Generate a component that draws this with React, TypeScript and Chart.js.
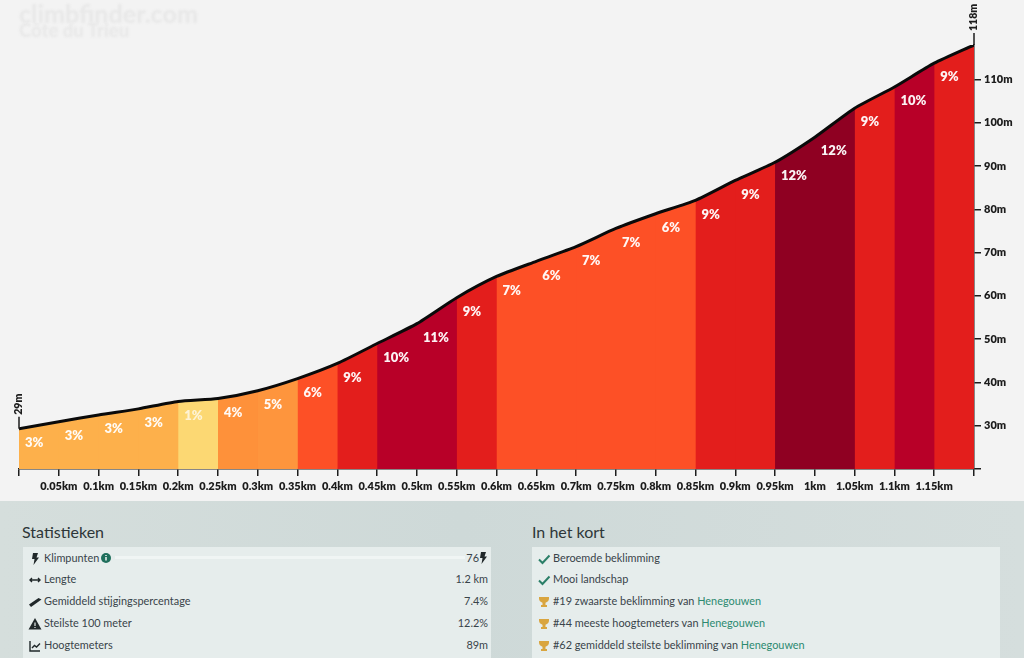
import React, { useEffect, useRef } from "react";
import { Chart, registerables } from "chart.js";

Chart.register(...registerables);

const distances = [0, 0.05, 0.1, 0.15, 0.2, 0.25, 0.3, 0.35, 0.4, 0.45, 0.5, 0.55, 0.6, 0.65, 0.7, 0.75, 0.8, 0.85, 0.9, 0.95, 1, 1.05, 1.1, 1.15, 1.2];
const elevations = [29.3, 30.9, 32.5, 33.9, 35.6, 36.3, 38.1, 40.9, 44.4, 49, 53.6, 59.6, 64.5, 68, 71.4, 75.6, 79, 82.1, 86.7, 90.9, 96.7, 103.4, 108.3, 113.8, 118];
const grades = [3, 3, 3, 3, 1, 4, 5, 6, 9, 10, 11, 9, 7, 6, 7, 7, 6, 9, 9, 12, 12, 9, 10, 9];
const startLabel = "29m";
const endLabel = "118m";
const statRows = [
  ["Klimpunten", "76"],
  ["Lengte", "1.2 km"],
  ["Gemiddeld stijgingspercentage", "7.4%"],
  ["Steilste 100 meter", "12.2%"],
  ["Hoogtemeters", "89m"],
];
const shortRows = [
  ["Beroemde beklimming", ""],
  ["Mooi landschap", ""],
  ["#19 zwaarste beklimming van ", "Henegouwen"],
  ["#44 meeste hoogtemeters van ", "Henegouwen"],
  ["#62 gemiddeld steilste beklimming van ", "Henegouwen"],
];

const gradeColor = (g: number): string => {
  if (g <= 1) return "#fcd873";
  if (g <= 3) return "#fdb04b";
  if (g <= 4) return "#fe913a";
  if (g <= 5) return "#fe953d";
  if (g <= 8) return "#fd5026";
  if (g <= 9) return "#e31e1c";
  if (g <= 11) return "#b80028";
  return "#8f0022";
};

const AXIS = "#1c1c1c";
const FONT = "Lato, sans-serif";
const TENSION = 0.2;

const overlayPlugin = {
  id: "overlay",
  afterDatasetsDraw(chart: any) {
    const { ctx, scales } = chart;
    const x = scales.x;
    const y = scales.y;
    ctx.save();
    ctx.font = `800 13px ${FONT}`;
    ctx.textAlign = "left";
    ctx.textBaseline = "middle";
    grades.forEach((g, i) => {
      ctx.fillStyle = g <= 1 ? "rgba(255,255,255,0.7)" : "rgba(255,255,255,0.95)";
      ctx.fillText(`${g}%`, x.getPixelForValue(distances[i]) + 6, y.getPixelForValue(elevations[i]) + 14);
    });
    const marks = [
      [distances[0], elevations[0], startLabel],
      [distances[distances.length - 1], elevations[elevations.length - 1], endLabel],
    ];
    ctx.strokeStyle = AXIS;
    ctx.fillStyle = AXIS;
    ctx.lineWidth = 1.5;
    ctx.font = `800 10.5px ${FONT}`;
    marks.forEach(([dv, ev, label]: any) => {
      const px = x.getPixelForValue(dv);
      const py = y.getPixelForValue(ev);
      ctx.beginPath();
      ctx.moveTo(px, py);
      ctx.lineTo(px, py - 12);
      ctx.stroke();
      ctx.save();
      ctx.translate(px, py - 14);
      ctx.rotate(-Math.PI / 2);
      ctx.textAlign = "left";
      ctx.textBaseline = "middle";
      ctx.fillText(label, 0, 0);
      ctx.restore();
    });
    ctx.restore();
  },
};

const ProfileChart = () => {
  const ref = useRef<HTMLCanvasElement>(null);
  useEffect(() => {
    const points = distances.map((d, i) => ({ x: d, y: elevations[i] }));
    // Each grade section is a filled layer reaching to the end of the climb, painted
    // over the previous one, so no background shows through at the section joins.
    const layers = grades.map((g, i) => ({
      data: points.slice(i),
      borderWidth: 0,
      borderColor: "transparent",
      pointRadius: 0,
      tension: TENSION,
      fill: "origin",
      backgroundColor: gradeColor(g),
      order: 100 - i,
    }));
    const chart = new Chart(ref.current as HTMLCanvasElement, {
      type: "line",
      data: {
        datasets: [
          ...layers,
          {
            data: points,
            borderColor: "#0a0a0a",
            borderWidth: 3,
            pointRadius: 0,
            tension: TENSION,
            fill: false,
            order: 0,
          },
        ],
      },
      options: {
        animation: false,
        responsive: false,
        layout: { padding: { left: 19, top: 45, right: 0, bottom: 0 } },
        plugins: { legend: { display: false }, tooltip: { enabled: false } },
        scales: {
          x: {
            type: "linear",
            min: 0,
            max: 1.2,
            border: { color: AXIS, width: 1.5 },
            grid: { drawOnChartArea: false, color: AXIS, tickColor: AXIS, tickLength: 7, lineWidth: 1.5 },
            afterBuildTicks: (s: any) => {
              s.ticks = distances.map((d) => ({ value: d }));
            },
            afterFit: (s: any) => {
              s.height = 32;
            },
            ticks: {
              autoSkip: false,
              maxRotation: 0,
              minRotation: 0,
              padding: 4,
              color: AXIS,
              font: { family: FONT, size: 11, weight: "800" },
              callback: (v: any) => (v === 0 || v === 1.2 ? "" : `${Number(v)}km`),
            },
          },
          y: {
            type: "linear",
            position: "right",
            min: 20,
            max: 118,
            border: { color: AXIS, width: 1.5 },
            grid: { drawOnChartArea: false, color: AXIS, tickColor: AXIS, tickLength: 7, lineWidth: 1.5 },
            afterFit: (s: any) => {
              s.width = 50;
            },
            ticks: {
              stepSize: 10,
              includeBounds: false,
              padding: 3,
              color: AXIS,
              font: { family: FONT, size: 11, weight: "800" },
              callback: (v: any) => (v === 20 ? "" : `${v}m`),
            },
          },
        },
      },
      plugins: [overlayPlugin],
    } as any);
    return () => chart.destroy();
  }, []);
  return <canvas ref={ref} width={1024} height={501} style={{ position: "absolute", left: 0, top: 0, width: 1024, height: 501 }} />;
};

const Icon = ({ kind }: { kind: string }) => {
  const dark = "#20282a";
  const box = { width: 14, height: 14, viewBox: "0 0 14 14" };
  if (kind === "bolt") return <svg {...box}><path d="M5 1h5L8.5 5.5H11L5.5 13 6.5 7H4z" fill={dark} /></svg>;
  if (kind === "arrows") return <svg {...box}><path d="M2 7h10M4 5 2 7l2 2M10 5l2 2-2 2" stroke={dark} strokeWidth="1.4" fill="none" /></svg>;
  if (kind === "road") return <svg {...box}><path d="M1 9.5 10.5 3l3 1.5L3 12z" fill={dark} /></svg>;
  if (kind === "warn") return <svg {...box}><path d="M7 1 13.5 12.5H.5z" fill={dark} /><path d="M7 5.5v3.5M7 10v1" stroke="#e6edec" strokeWidth="1.2" /></svg>;
  if (kind === "graph") return <svg {...box}><path d="M2 2v10h10" stroke={dark} strokeWidth="1.4" fill="none" /><path d="M4 9l2.5-2.5 2 1.5L12 4.5" stroke={dark} strokeWidth="1.4" fill="none" /></svg>;
  if (kind === "check") return <svg {...box}><path d="M2 7.5 5.5 11 12.5 3.5" stroke="#2b7f68" strokeWidth="2" fill="none" /></svg>;
  return <svg {...box}><path d="M2 2h10v1.5c0 2-1.5 3.7-3.5 4.2V10H10v2H4v-2h1.5V7.7C3.5 7.2 2 5.5 2 3.5z" fill="#d9a53f" /></svg>;
};

const rowTop = (i: number) => 5.5 + i * 21.8;
const textStyle: React.CSSProperties = { position: "absolute", fontFamily: FONT, fontSize: 10.9, lineHeight: "14px", color: "#39444a", whiteSpace: "nowrap" };
const cardStyle = (left: number): React.CSSProperties => ({ position: "absolute", left, top: 547, width: 468, height: 111, background: "#e6edec", overflow: "hidden" });
const headStyle = (left: number): React.CSSProperties => ({ position: "absolute", left, top: 522, fontFamily: FONT, fontSize: 16, lineHeight: "20px", color: "#2d3638", whiteSpace: "nowrap" });
const statIcons = ["bolt", "arrows", "road", "warn", "graph"];
const shortIcons = ["check", "check", "trophy", "trophy", "trophy"];

export default function App() {
  return (
    <div style={{ position: "absolute", left: 0, top: 0, width: 1024, height: 658, overflow: "hidden", background: "#f3f3f3" }}>
      <ProfileChart />
      <div style={{ position: "absolute", left: 19, top: 1, fontFamily: FONT, fontWeight: 900, fontSize: 25, lineHeight: "24px", color: "#e8e8e8", filter: "blur(0.8px)" }}>climbfinder.com</div>
      <div style={{ position: "absolute", left: 19, top: 21, fontFamily: FONT, fontWeight: 900, fontSize: 18.5, lineHeight: "18px", color: "#e8e8e8", filter: "blur(0.8px)" }}>Côte du Trieu</div>
      <div style={{ position: "absolute", left: 0, top: 501, width: 1024, height: 157, background: "linear-gradient(90deg,#d5dedc,#ced9d8 45%,#d5dedd)" }} />
      <div style={headStyle(22)}>Statistieken</div>
      <div style={headStyle(532)}>In het kort</div>
      <div style={cardStyle(23)}>
        <div style={{ position: "absolute", left: 92, top: 9, width: 350, height: 3, background: "#f0f5f4" }} />
        <svg width="12" height="12" viewBox="0 0 12 12" style={{ position: "absolute", left: 77, top: 5 }}>
          <circle cx="6" cy="6" r="5" fill="#1f6f5c" />
          <path d="M6 5v3.5M6 3v1" stroke="#fff" strokeWidth="1.4" />
        </svg>
        {statRows.map(([label, value], i) => (
          <React.Fragment key={label}>
            <div style={{ position: "absolute", left: 5, top: rowTop(i) - 1 }}><Icon kind={statIcons[i]} /></div>
            <div style={{ ...textStyle, left: 21, top: rowTop(i) - 2 }}>{label}</div>
            <div style={{ ...textStyle, right: i === 0 ? 12 : 3, top: rowTop(i) - 2 }}>{value}</div>
          </React.Fragment>
        ))}
        <div style={{ position: "absolute", right: 1, top: 4 }}><Icon kind="bolt" /></div>
      </div>
      <div style={cardStyle(532)}>
        {shortRows.map(([label, link], i) => (
          <React.Fragment key={label}>
            <div style={{ position: "absolute", left: 5, top: rowTop(i) - 1 }}><Icon kind={shortIcons[i]} /></div>
            <div style={{ ...textStyle, left: 21, top: rowTop(i) - 2 }}>
              {label}
              <span style={{ color: "#2c8a70" }}>{link}</span>
            </div>
          </React.Fragment>
        ))}
      </div>
    </div>
  );
}
